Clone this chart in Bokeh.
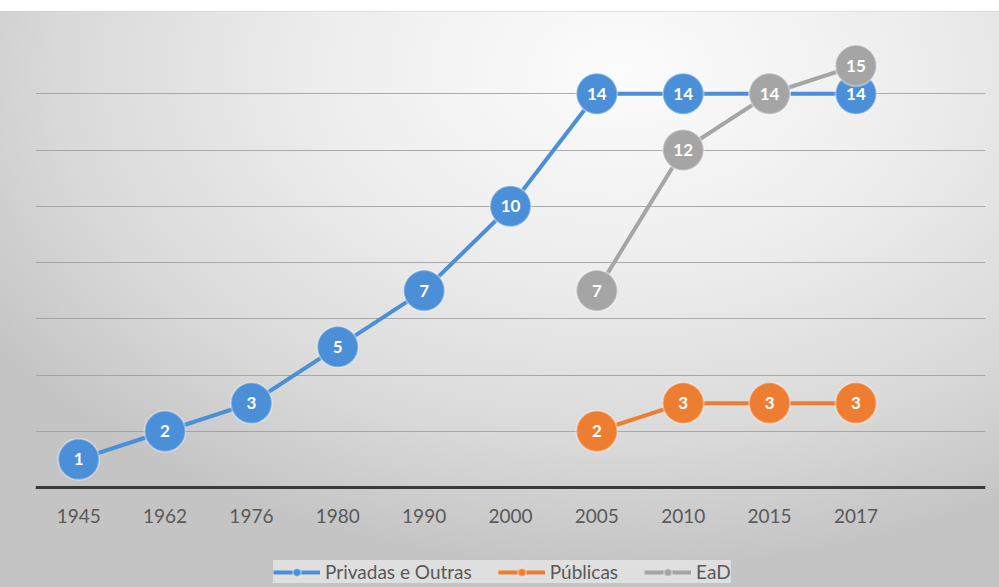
from bokeh.plotting import figure
from bokeh.models import FactorRange, Range1d, ColumnDataSource, Legend, LegendItem, FixedTicker
from bokeh.core.properties import value
from bokeh.embed import file_html
from bokeh.resources import INLINE

years = ["1945", "1962", "1976", "1980", "1990", "2000", "2005", "2010", "2015", "2017"]
privadas = [1, 2, 3, 5, 7, 10, 14, 14, 14, 14]
publicas = [None, None, None, None, None, None, 2, 3, 3, 3]
ead = [None, None, None, None, None, None, 7, 12, 14, 15]

series = [
    ("Privadas e Outras", privadas, "#4a8fd8"),
    ("Públicas", publicas, "#ed7d31"),
    ("EaD", ead, "#a5a5a5"),
]

# frame covers chart + space below the axis (axis drawn at y = 0)
p = figure(
    frame_width=950, frame_height=550,
    x_range=FactorRange(factors=years + [" "]),
    y_range=Range1d(-100 / 28.125, 16),
    output_backend="svg", toolbar_location=None,
    min_border_left=35, min_border_right=14, min_border_top=37, min_border_bottom=0,
)
p.styles = {
    "background": "linear-gradient(to bottom, #ffffff 0px, #ffffff 11px, #d4d4d4 11px, transparent 12px), "
                  "radial-gradient(ellipse 75% 85% at 62% 12%, #fcfcfc 0%, #ededed 40%, #d9d9d9 75%, #c4c4c4 100%)"
}
p.background_fill_alpha = 0
p.border_fill_alpha = 0
p.outline_line_color = None

p.yaxis.visible = False
p.ygrid.ticker = FixedTicker(ticks=[2, 4, 6, 8, 10, 12, 14, 16])
p.ygrid.grid_line_color = "#9a9a9a"
p.ygrid.grid_line_alpha = 0.8
p.ygrid.grid_line_width = 1
p.xgrid.visible = False

ax = p.xaxis[0]
ax.fixed_location = 0
ax.axis_line_color = "#3a3a3a"
ax.axis_line_width = 3
ax.major_tick_line_color = None
ax.minor_tick_line_color = None
ax.major_tick_out = 0
ax.major_tick_in = 0
ax.major_label_standoff = 16
ax.major_label_text_font = "Lato"
ax.major_label_text_font_size = "19px"
ax.major_label_text_color = "#595959"

items = []
for name, vals, color in series:
    xs = [y for y, v in zip(years, vals) if v is not None]
    ys = [v for v in vals if v is not None]
    src = ColumnDataSource(dict(x=xs, y=ys, t=[str(v) for v in ys]))
    ln = p.line("x", "y", source=src, line_color=color, line_width=4)
    sc = p.scatter("x", "y", source=src, size=41, fill_color=color,
                   line_color="#ffffff", line_alpha=0.35, line_width=2)
    p.text("x", "y", text="t", source=src, text_color="white",
           text_font=value("Lato"), text_font_style="bold", text_font_size="17px",
           text_align="center", text_baseline="middle")
    items.append(LegendItem(label=name, renderers=[ln, sc]))

legend = Legend(items=items, orientation="horizontal", location=(238, 4))
legend.label_text_font = "Lato"
legend.label_text_font_size = "19px"
legend.label_text_color = "#595959"
legend.glyph_width = 47
legend.glyph_height = 20
legend.label_standoff = 5
legend.spacing = 26
legend.padding = 9
legend.margin = 0
legend.background_fill_color = "#e6e6e6"
legend.background_fill_alpha = 0.8
legend.border_line_color = None
p.add_layout(legend, "center")

open("out.html", "w").write(file_html(p, INLINE))
